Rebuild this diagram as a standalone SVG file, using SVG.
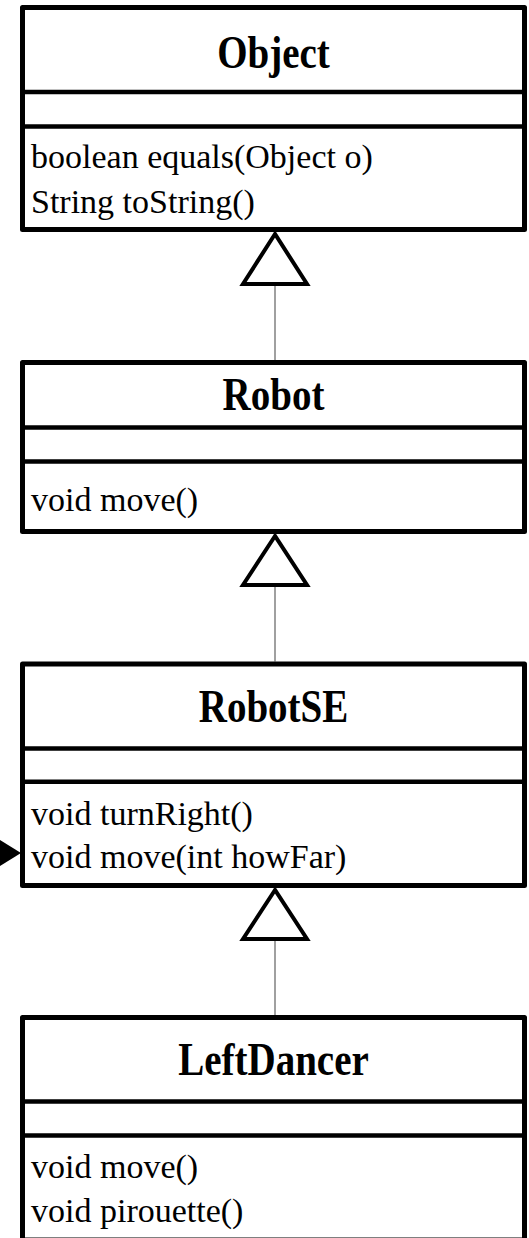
<svg xmlns="http://www.w3.org/2000/svg" width="529" height="1238" viewBox="0 0 529 1238">
<style>
.box{fill:#fff;stroke:#000;stroke-width:5;stroke-linejoin:round}
.div{stroke:#000;stroke-width:4.5}
.title{font-family:"Liberation Serif","Times New Roman",serif;font-weight:bold;font-size:39px;text-anchor:middle;fill:#000}
.m{font-family:"Liberation Serif","Times New Roman",serif;font-size:34px;fill:#000}
.line{stroke:#808080;stroke-width:1.5;fill:none}
.tri{fill:#fff;stroke:#000;stroke-width:4;stroke-linejoin:miter}
</style>
<rect width="529" height="1238" fill="#fff"/>
<g id="connectors">
<line class="line" x1="275" y1="284" x2="275" y2="360"/>
<polygon class="tri" points="275,234 243,284 307,284"/>
<line class="line" x1="275" y1="585" x2="275" y2="661.5"/>
<polygon class="tri" points="275,536 243,585 307,585"/>
<line class="line" x1="275" y1="939" x2="275" y2="1015"/>
<polygon class="tri" points="275,890 243,939 307,939"/>
<polygon points="0,840 21,853 0,866" fill="#000"/>
</g>
<g id="Object">
<rect class="box" x="22.5" y="7.5" width="502" height="222"/>
<line class="div" x1="22.5" y1="92" x2="524.5" y2="92"/>
<line class="div" x1="22.5" y1="126.5" x2="524.5" y2="126.5"/>
<text class="title" transform="translate(273.5,68) scale(1,1.2)">Object</text>
<text class="m" x="31" y="168">boolean equals(Object o)</text>
<text class="m" x="31" y="213">String toString()</text>
</g>
<g id="Robot">
<rect class="box" x="22.5" y="362.5" width="502" height="169"/>
<line class="div" x1="22.5" y1="427.5" x2="524.5" y2="427.5"/>
<line class="div" x1="22.5" y1="461.5" x2="524.5" y2="461.5"/>
<text class="title" transform="translate(273.5,410) scale(1,1.2)">Robot</text>
<text class="m" x="31" y="511">void move()</text>
</g>
<g id="RobotSE">
<rect class="box" x="22.5" y="664" width="502" height="221.5"/>
<line class="div" x1="22.5" y1="748.5" x2="524.5" y2="748.5"/>
<line class="div" x1="22.5" y1="781.7" x2="524.5" y2="781.7"/>
<text class="title" transform="translate(273.5,722) scale(1,1.2)">RobotSE</text>
<text class="m" x="31" y="825">void turnRight()</text>
<text class="m" x="31" y="868">void move(int howFar)</text>
</g>
<g id="LeftDancer">
<rect class="box" x="22.5" y="1017.5" width="502" height="222.5"/>
<line class="div" x1="22.5" y1="1101.5" x2="524.5" y2="1101.5"/>
<line class="div" x1="22.5" y1="1135.5" x2="524.5" y2="1135.5"/>
<text class="title" transform="translate(273.5,1075) scale(1,1.2)">LeftDancer</text>
<text class="m" x="31" y="1178">void move()</text>
<text class="m" x="31" y="1222">void pirouette()</text>
</g>
</svg>
